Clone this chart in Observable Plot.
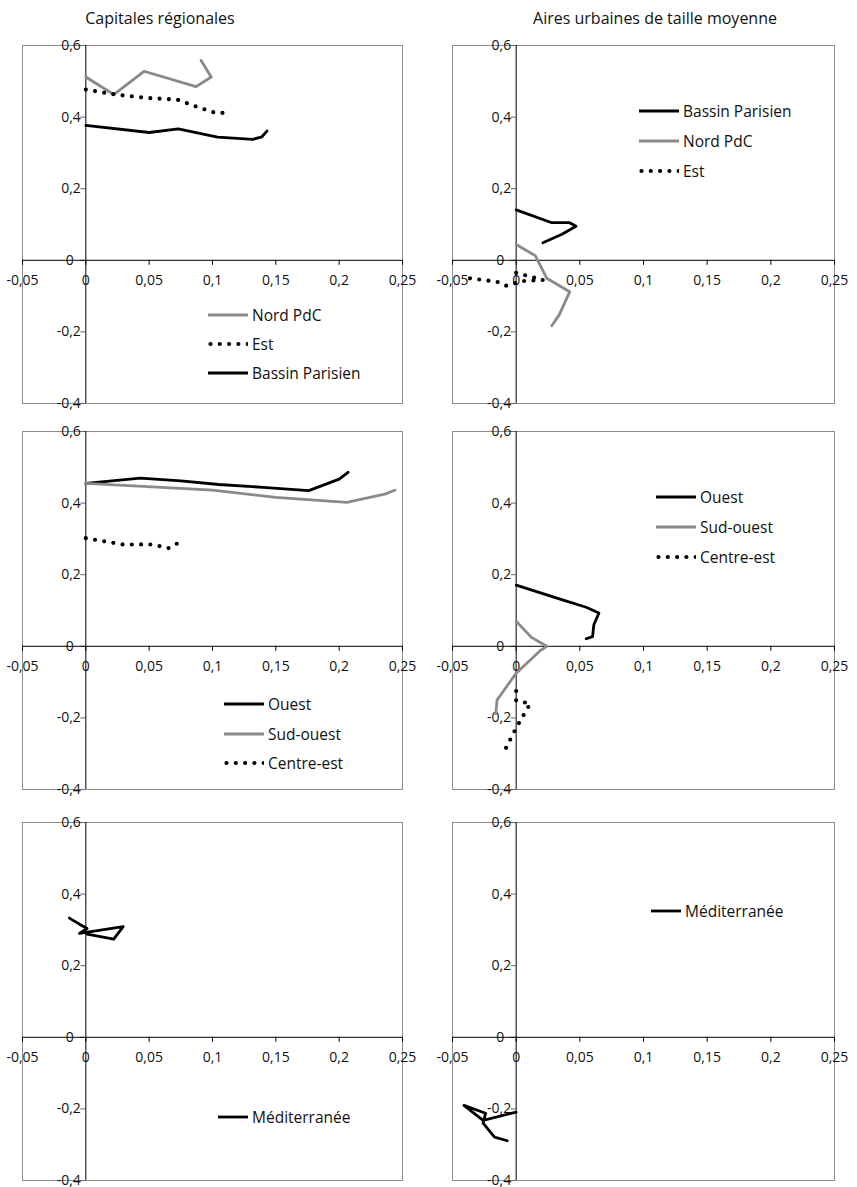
<!DOCTYPE html>
<html><head><meta charset="utf-8">
<script src="https://cdn.jsdelivr.net/npm/d3@7"></script>
<script src="https://cdn.jsdelivr.net/npm/@observablehq/plot@0.6"></script>
<style>
html,body{margin:0;padding:0;background:#fff;}
body{width:857px;height:1187px;overflow:hidden;position:relative;font-family:"Open Sans",sans-serif;}
.panel{position:absolute;}
.title{position:absolute;top:7px;font-size:16px;color:#111;transform:translateX(-50%);white-space:nowrap;}
.leg{position:absolute;display:flex;align-items:center;font-size:15.5px;color:#111;white-space:nowrap;transform:translateY(-50%);}
.leg svg{display:block;margin-right:4px;}
</style></head><body>
<script>
// ---- axis ticks and titles ----
const xTicks = [-0.05, 0, 0.05, 0.1, 0.15, 0.2, 0.25];
const xTickLabels = ["-0,05", "0", "0,05", "0,1", "0,15", "0,2", "0,25"];
const yTicks = [-0.4, -0.2, 0, 0.2, 0.4, 0.6];
const yTickLabels = ["-0,4", "-0,2", "0", "0,2", "0,4", "0,6"];
const columnTitles = ["Capitales régionales", "Aires urbaines de taille moyenne"];

// ---- Capitales régionales : [x, y] ----
const capNordPdC = [[0,0.512],[0.022,0.463],[0.046,0.528],[0.087,0.485],[0.099,0.512],[0.091,0.558]];
const capEst = [[0,0.477],[0.025,0.462],[0.05,0.453],[0.072,0.449],[0.086,0.431],[0.1,0.414],[0.114,0.41]];
const capBassinParisien = [[0,0.377],[0.05,0.357],[0.073,0.367],[0.104,0.344],[0.132,0.338],[0.139,0.345],[0.143,0.361]];
const capOuest = [[0,0.455],[0.043,0.47],[0.075,0.462],[0.105,0.452],[0.14,0.444],[0.176,0.435],[0.2,0.467],[0.207,0.486]];
const capSudOuest = [[0,0.455],[0.045,0.447],[0.1,0.436],[0.15,0.416],[0.206,0.402],[0.236,0.425],[0.244,0.436]];
const capCentreEst = [[0,0.302],[0.015,0.293],[0.03,0.284],[0.05,0.285],[0.058,0.28],[0.065,0.274],[0.071,0.284],[0.077,0.304]];
const capMediterranee = [[-0.013,0.333],[-0.005,0.316],[0.001,0.304],[-0.005,0.29],[0.0295,0.309],[0.022,0.274],[0.001,0.288]];

// ---- Aires urbaines de taille moyenne : [x, y] ----
const aumBassinParisien = [[0,0.141],[0.028,0.105],[0.042,0.105],[0.047,0.095],[0.036,0.073],[0.021,0.049]];
const aumNordPdC = [[0,0.044],[0.015,0.013],[0.024,-0.05],[0.042,-0.088],[0.034,-0.151],[0.028,-0.183]];
const aumEst = [[0,-0.035],[0.021,-0.055],[0.005,-0.058],[0,-0.063],[-0.008,-0.071],[-0.015,-0.06],[-0.037,-0.05]];
const aumOuest = [[0,0.171],[0.037,0.129],[0.055,0.109],[0.065,0.093],[0.061,0.06],[0.06,0.027],[0.055,0.021]];
const aumSudOuest = [[0,0.07],[0.012,0.025],[0.024,0],[0.019,-0.012],[0,-0.075],[-0.015,-0.15],[-0.016,-0.188]];
const aumCentreEst = [[0,-0.125],[0,-0.152],[0.011,-0.16],[0.007,-0.185],[0,-0.228],[-0.01,-0.298]];
const aumMediterranee = [[0,-0.209],[-0.026,-0.232],[-0.041,-0.19],[-0.024,-0.212],[-0.026,-0.24],[-0.017,-0.279],[-0.007,-0.289]];

// ---- styles ----
const BLACK = {stroke: "#000", strokeWidth: 2.8};
const GRAY = {stroke: "#8a8a8a", strokeWidth: 2.8};
const DOTS = {stroke: "#000", strokeWidth: 4.2, strokeDasharray: "0 9.3", strokeLinecap: "round"};
const styleOf = {
  "Nord PdC": GRAY, "Est": DOTS, "Bassin Parisien": BLACK,
  "Ouest": BLACK, "Sud-ouest": GRAY, "Centre-est": DOTS, "Méditerranée": BLACK
};

// ---- panels (layout) ----
const colLeft = [0, 430], colWidth = [430, 427], colMR = [28, 23];
const rowTop = [45, 430.5, 821.5];
const PH = 358, MT = 10, MB = 8, ML = 22;
const panels = [
  {col:0,row:0,series:[["Nord PdC",capNordPdC],["Est",capEst],["Bassin Parisien",capBassinParisien]],
   legend:{x:208,y:315,gap:29,len:40}},
  {col:1,row:0,series:[["Bassin Parisien",aumBassinParisien],["Nord PdC",aumNordPdC],["Est",aumEst]],
   legend:{x:639,y:110.5,gap:30,len:40}},
  {col:0,row:1,series:[["Ouest",capOuest],["Sud-ouest",capSudOuest],["Centre-est",capCentreEst]],
   legend:{x:224,y:704,gap:29.7,len:40}},
  {col:1,row:1,series:[["Ouest",aumOuest],["Sud-ouest",aumSudOuest],["Centre-est",aumCentreEst]],
   legend:{x:656,y:496.7,gap:30,len:40}},
  {col:0,row:2,series:[["Méditerranée",capMediterranee]],legend:{x:218,y:1117,gap:30,len:30}},
  {col:1,row:2,series:[["Méditerranée",aumMediterranee]],legend:{x:651,y:910.5,gap:30,len:30}}
];

const txt = {fontSize: 14, fill: "#111"};
const xLab = i => xTickLabels[i];

for (const p of panels) {
  const W = colWidth[p.col];
  const chart = Plot.plot({
    width: W, height: MT + PH + MB,
    marginLeft: ML, marginRight: colMR[p.col], marginTop: MT, marginBottom: MB,
    x: {domain: [-0.05, 0.25], axis: null},
    y: {domain: [-0.4, 0.6], axis: null},
    style: {overflow: "visible", background: "transparent", fontFamily: "'Open Sans', sans-serif"},
    marks: [
      Plot.frame({stroke: "#8c8c8c", strokeWidth: 1}),
      Plot.ruleY(yTicks, {y: d => d, x1: 0, x2: 0, insetLeft: -5, stroke: "#666", strokeWidth: 1}),
      Plot.ruleX(xTicks, {x: d => d, y1: 0, y2: 0, insetBottom: -5, stroke: "#000", strokeWidth: 1}),
      Plot.ruleX([0], {stroke: "#000", strokeWidth: 1}),
      Plot.ruleY([0], {stroke: "#000", strokeWidth: 1}),
      Plot.text(yTicks.map((v, i) => i).filter(i => yTicks[i] !== 0),
        {x: 0, y: i => yTicks[i], text: i => yTickLabels[i], textAnchor: "end", dx: -5, ...txt}),
      Plot.text(yTicks.map((v, i) => i).filter(i => yTicks[i] === 0),
        {x: 0, y: i => yTicks[i], text: i => yTickLabels[i], textAnchor: "end", dx: -12, ...txt}),
      Plot.text(xTicks.map((v, i) => i), {x: i => xTicks[i], y: 0, text: xLab, dy: 20, ...txt}),
      ...p.series.map(([name, data]) =>
        Plot.line(data, {x: d => d[0], y: d => d[1], strokeLinejoin: "round", ...styleOf[name]}))
    ]
  });
  const div = document.createElement("div");
  div.className = "panel";
  div.style.left = colLeft[p.col] + "px";
  div.style.top = (rowTop[p.row] - MT) + "px";
  div.appendChild(chart);
  document.body.appendChild(div);

  // legend
  p.series.forEach(([name], k) => {
    const st = styleOf[name];
    const L = p.legend.len;
    const leg = document.createElement("div");
    leg.className = "leg";
    leg.style.left = p.legend.x + "px";
    leg.style.top = (p.legend.y + k * p.legend.gap) + "px";
    leg.innerHTML = `<svg width="${L}" height="8"><line x1="${st === DOTS ? 2.5 : 0}" x2="${L}" y1="4" y2="4" stroke="${st.stroke}" stroke-width="${st.strokeWidth}" ${st.strokeDasharray ? `stroke-dasharray="${st.strokeDasharray}" stroke-linecap="round"` : ""}/></svg><span>${name}</span>`;
    document.body.appendChild(leg);
  });
}

// column titles
const titleX = [160, 655];
columnTitles.forEach((t, i) => {
  const d = document.createElement("div");
  d.className = "title";
  d.style.left = titleX[i] + "px";
  d.textContent = t;
  document.body.appendChild(d);
});
</script>
</body></html>
